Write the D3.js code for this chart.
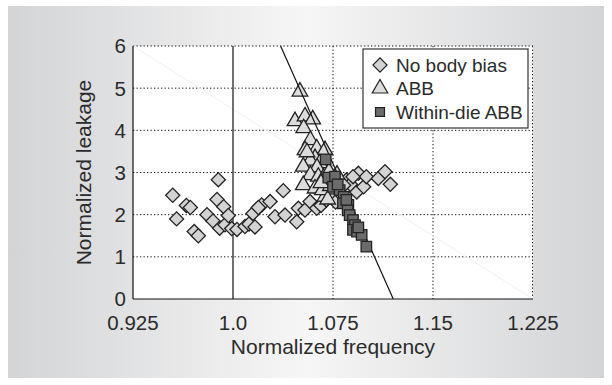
<!DOCTYPE html>
<html>
<head>
<meta charset="utf-8">
<script src="https://cdn.jsdelivr.net/npm/d3@7"></script>
<style>
  html, body { margin: 0; padding: 0; background: #fff; }
  svg { display: block; }
  text { font-family: "Liberation Sans", Arial, sans-serif; fill: #2b2b2b; }
</style>
</head>
<body>
<div id="chart"></div>
<script>
// data: [normalized frequency, normalized leakage]
const noBodyBias = [
  [0.9548, 2.46], [0.9577, 1.90], [0.965, 2.22], [0.968, 2.17], [0.9709, 1.60],
  [0.974, 1.50], [0.9805, 2.00], [0.985, 1.85], [0.989, 2.83], [0.988, 2.36],
  [0.993, 2.19], [0.990, 1.68], [0.994, 1.76], [0.9965, 1.98], [0.999, 1.67],
  [1.003, 1.65], [1.009, 1.72], [1.012, 1.78], [1.0165, 1.71], [1.015, 2.03],
  [1.0215, 2.23], [1.019, 2.17], [1.0278, 2.31], [1.0315, 1.95], [1.0377, 2.57],
  [1.039, 1.99], [1.0478, 1.83], [1.049, 2.15], [1.054, 2.11], [1.0578, 2.31],
  [1.0628, 2.15], [1.066, 2.22], [1.070, 2.35], [1.074, 2.46], [1.077, 2.30],
  [1.080, 2.52], [1.0825, 2.58], [1.085, 2.82], [1.0928, 2.54], [1.088, 2.72],
  [1.094, 2.98], [1.098, 2.66], [1.100, 2.90], [1.109, 2.86], [1.114, 3.02],
  [1.118, 2.72], [1.090, 2.90], [1.083, 2.70]
];

const abb = [
  [1.0502, 4.92], [1.0465, 4.22], [1.054, 4.33], [1.0598, 4.26], [1.053, 4.05],
  [1.058, 3.77], [1.054, 3.53], [1.0628, 3.57], [1.069, 3.53], [1.0615, 3.34],
  [1.058, 3.28], [1.0527, 3.14], [1.065, 3.22], [1.063, 3.12], [1.058, 2.94],
  [1.064, 2.90], [1.068, 2.88], [1.0527, 2.70], [1.0615, 2.62], [1.069, 2.43],
  [1.072, 3.02], [1.075, 2.80], [1.067, 2.58], [1.073, 2.68], [1.076, 2.60],
  [1.078, 2.95], [1.071, 2.36], [1.0555, 3.48], [1.066, 2.75]
];

const withinDieAbb = [
  [1.0695, 3.31], [1.0715, 2.88], [1.0765, 2.90], [1.075, 2.66], [1.080, 2.58],
  [1.0785, 2.72], [1.083, 2.42], [1.0825, 2.27], [1.0865, 2.23], [1.086, 2.10],
  [1.0875, 1.99], [1.090, 1.87], [1.0915, 1.75], [1.090, 1.64], [1.093, 1.60],
  [1.0965, 1.52], [1.094, 1.70], [1.100, 1.24], [1.085, 2.35]
];

const xTicks = [0.925, 1.0, 1.075, 1.15, 1.225];
const xTickLabels = ['0.925', '1.0', '1.075', '1.15', '1.225'];
const yTicks = [0, 1, 2, 3, 4, 5, 6];

// reference lines drawn on the plot
const boundLine = [[1.0357, 6], [1.1202, 0]];
const faintLine = [[0.925, 6], [1.225, 0]];
const nominalFreq = 1.0;

const width = 612;
const height = 385;
const margin = { top: 46, right: 79, bottom: 86, left: 133 };
const innerW = width - margin.left - margin.right;
const innerH = height - margin.top - margin.bottom;

const svg = d3.select('#chart')
  .append('svg')
  .attr('width', width)
  .attr('height', height);

// background panel with soft horizontal gradient
const grad = svg.append('defs')
  .append('linearGradient')
  .attr('id', 'bg')
  .attr('x1', '0%').attr('x2', '100%')
  .attr('y1', '0%').attr('y2', '0%');
grad.append('stop').attr('offset', '0%').attr('stop-color', '#d3d4d6');
grad.append('stop').attr('offset', '50%').attr('stop-color', '#f6f6f6');
grad.append('stop').attr('offset', '100%').attr('stop-color', '#d3d4d6');

svg.append('rect')
  .attr('x', 8).attr('y', 6)
  .attr('width', 596).attr('height', 372)
  .attr('fill', 'url(#bg)');

const x = d3.scaleLinear().domain([0.925, 1.225]).range([0, innerW]);
const y = d3.scaleLinear().domain([0, 6]).range([innerH, 0]);

const g = svg.append('g')
  .attr('transform', `translate(${margin.left},${margin.top})`);

g.append('rect')
  .attr('width', innerW)
  .attr('height', innerH)
  .attr('fill', '#fff');

// dotted grid (top and right edges are dotted too)
const dotted = { stroke: '#111', dash: '1.3,2.2' };
g.selectAll('.hgrid')
  .data(yTicks.filter(d => d > 0))
  .join('line')
  .attr('class', 'hgrid')
  .attr('x1', 0).attr('x2', innerW)
  .attr('y1', d => y(d)).attr('y2', d => y(d))
  .attr('stroke', dotted.stroke)
  .attr('stroke-dasharray', dotted.dash);

g.selectAll('.vgrid')
  .data(xTicks.filter(d => d > 1.0))
  .join('line')
  .attr('class', 'vgrid')
  .attr('x1', d => x(d) - (d === 1.225 ? 0.5 : 0)).attr('x2', d => x(d) - (d === 1.225 ? 0.5 : 0))
  .attr('y1', 0).attr('y2', innerH)
  .attr('stroke', dotted.stroke)
  .attr('stroke-dasharray', dotted.dash);

const line = d3.line().x(d => x(d[0])).y(d => y(d[1]));

g.append('path')
  .attr('d', line(faintLine))
  .attr('stroke', '#f0f0f0')
  .attr('fill', 'none');

g.append('line')
  .attr('x1', x(nominalFreq)).attr('x2', x(nominalFreq))
  .attr('y1', 0).attr('y2', innerH)
  .attr('stroke', '#111')
  .attr('stroke-width', 1.2);

// solid axes (left and bottom)
g.append('line')
  .attr('x1', 0).attr('x2', 0).attr('y1', 0).attr('y2', innerH)
  .attr('stroke', '#111').attr('stroke-width', 1.2);
g.append('line')
  .attr('x1', 0).attr('x2', innerW).attr('y1', innerH).attr('y2', innerH)
  .attr('stroke', '#111').attr('stroke-width', 1.2);

// markers
const diamond = d3.symbol().type(d3.symbolSquare).size(100)();
const triangle = d3.symbol().type(d3.symbolTriangle).size(105)();
const square = d3.symbol().type(d3.symbolSquare).size(110)();

g.selectAll('.nbb')
  .data(noBodyBias)
  .join('path')
  .attr('class', 'nbb')
  .attr('d', diamond)
  .attr('transform', d => `translate(${x(d[0])},${y(d[1])}) rotate(45)`)
  .attr('fill', '#d3d3d3')
  .attr('stroke', '#222')
  .attr('stroke-width', 1.3);

g.selectAll('.abb')
  .data(abb)
  .join('path')
  .attr('class', 'abb')
  .attr('d', triangle)
  .attr('transform', d => `translate(${x(d[0])},${y(d[1])})`)
  .attr('fill', '#dcdcdc')
  .attr('stroke', '#222')
  .attr('stroke-width', 1.3);

g.append('path')
  .attr('d', line(boundLine))
  .attr('stroke', '#111')
  .attr('stroke-width', 1.2)
  .attr('fill', 'none');

g.selectAll('.wabb')
  .data(withinDieAbb)
  .join('path')
  .attr('class', 'wabb')
  .attr('d', square)
  .attr('transform', d => `translate(${x(d[0])},${y(d[1])})`)
  .attr('fill', '#6b6b6b')
  .attr('stroke', '#222')
  .attr('stroke-width', 1.3);

// tick labels
g.selectAll('.xlab')
  .data(xTicks)
  .join('text')
  .attr('class', 'xlab')
  .attr('x', d => x(d))
  .attr('y', innerH + 31)
  .attr('text-anchor', 'middle')
  .style('font-size', '20.5px')
  .text((d, i) => xTickLabels[i]);

g.selectAll('.ylab')
  .data(yTicks)
  .join('text')
  .attr('class', 'ylab')
  .attr('x', -7)
  .attr('y', d => y(d))
  .attr('dy', '0.36em')
  .attr('text-anchor', 'end')
  .style('font-size', '20.5px')
  .text(d => d);

// axis titles
svg.append('text')
  .attr('x', margin.left + innerW / 2)
  .attr('y', 354)
  .attr('text-anchor', 'middle')
  .style('font-size', '21px')
  .text('Normalized frequency');

svg.append('text')
  .attr('transform', `translate(91,${margin.top + innerH / 2}) rotate(-90)`)
  .attr('text-anchor', 'middle')
  .style('font-size', '21px')
  .text('Normalized leakage');

// legend
const legend = svg.append('g').attr('transform', 'translate(363,49)');
legend.append('rect')
  .attr('width', 165).attr('height', 79)
  .attr('fill', '#fff')
  .attr('stroke', '#333')
  .attr('stroke-width', 1.2);

const legendItems = [
  { label: 'No body bias', d: diamond, rot: 45, fill: '#d3d3d3' },
  { label: 'ABB', d: triangle, rot: 0, fill: '#dcdcdc' },
  { label: 'Within-die ABB', d: d3.symbol().type(d3.symbolSquare).size(80)(), rot: 0, fill: '#6b6b6b' }
];

const rows = legend.selectAll('.item')
  .data(legendItems)
  .join('g')
  .attr('class', 'item')
  .attr('transform', (d, i) => `translate(0,${16 + i * 23.5})`);

rows.append('path')
  .attr('d', d => d.d)
  .attr('transform', d => `translate(17,0) rotate(${d.rot})`)
  .attr('fill', d => d.fill)
  .attr('stroke', '#222')
  .attr('stroke-width', 1.2);

rows.append('text')
  .attr('x', 33)
  .attr('dy', '0.36em')
  .style('font-size', '19px')
  .text(d => d.label);
</script>
</body>
</html>
